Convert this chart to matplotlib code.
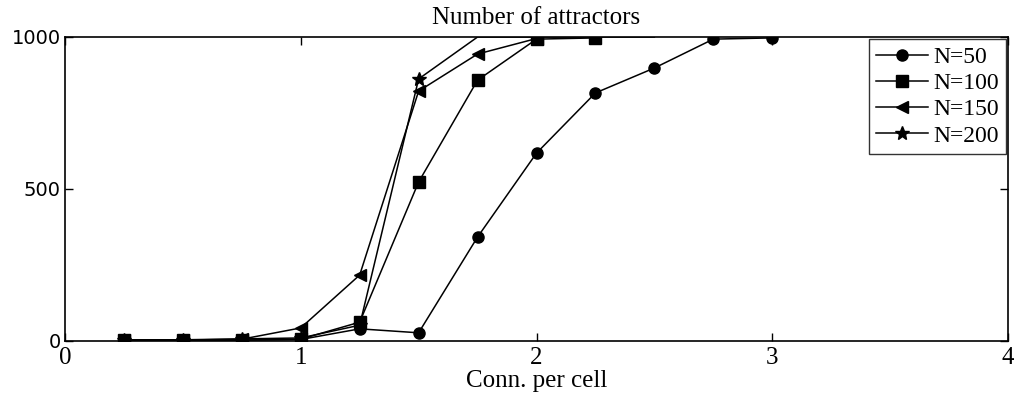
import matplotlib
matplotlib.use("Agg")
import matplotlib.pyplot as plt
import numpy as np

plt.rcParams['font.family'] = ['Liberation Serif', 'DejaVu Serif']

# connections per cell
x = [0.25, 0.5, 0.75, 1.0, 1.25, 1.5, 1.75, 2.0, 2.25, 2.5, 2.75, 3.0]

n50 = [2, 2, 3, 5, 40, 27, 342, 618, 816, 898, 993, 997]
x100 = [0.25, 0.5, 0.75, 1.0, 1.25, 1.5, 1.75, 2.0, 2.25]
n100 = [2, 2, 3, 6, 62, 523, 858, 993, 997]
x150 = [0.25, 0.5, 0.75, 1.0, 1.25, 1.5, 1.75, 2.0]
n150 = [3, 3, 6, 43, 217, 822, 944, 995]
x200 = [0.25, 0.5, 0.75, 1.0, 1.25, 1.5, 1.75, 2.0, 2.25, 2.5]
n200 = [4, 4, 7, 10, 52, 862, 1000, 1000, 1000, 1000]

fig = plt.figure(figsize=(10.14, 4.01), dpi=100)
ax = fig.add_axes([65/1014, 60/401, 943/1014, 304/401])

ax.plot(x, n50, '-o', color='black', lw=1.1, ms=8, label='N=50')
ax.plot(x100, n100, '-s', color='black', lw=1.1, ms=8, label='N=100')
ax.plot(x150, n150, '-<', color='black', lw=1.1, ms=9, label='N=150')
# points at the cap are drawn without markers, as in the original
ax.plot(x200, n200, '-*', color='black', lw=1.1, ms=10, markevery=list(range(6)), label='N=200')

ax.set_xlim(0, 4)
ax.set_ylim(0, 1000)
ax.set_xticks([0, 1, 2, 3, 4])
ax.set_yticks([0, 500, 1000])
ax.tick_params(direction='in', length=6, width=1, top=True, right=True)
ax.tick_params(axis='x', labelsize=18, pad=4)
ax.tick_params(axis='y', labelsize=14, pad=3)
for lab in ax.get_yticklabels():
    lab.set_family(['DejaVu Sans'])
for s in ax.spines.values():
    s.set_linewidth(1.2)

ax.set_xlabel('Conn. per cell', fontsize=18, labelpad=1)
ax.set_title('Number of attractors', fontsize=18, pad=9)

leg = ax.legend(loc='upper right', fontsize=17, frameon=True, fancybox=False,
                edgecolor='black', borderaxespad=0.1, handlelength=2.2,
                handletextpad=0.2, labelspacing=0.2, borderpad=0.3)
leg.get_frame().set_linewidth(1.0)

fig.savefig('out.png', dpi=100)
